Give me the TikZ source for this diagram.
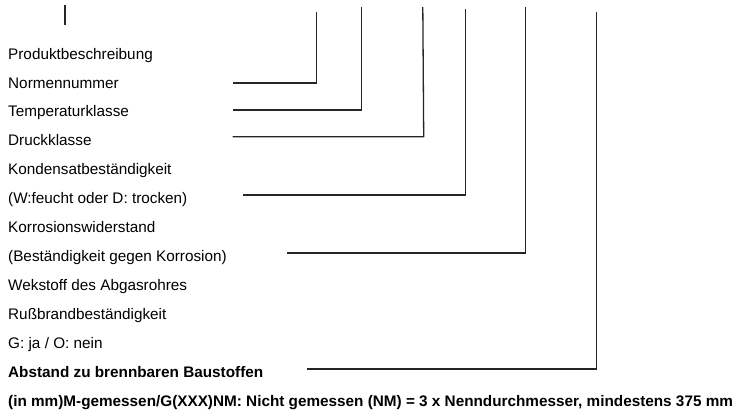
\documentclass[tikz,border=0pt]{standalone}
\usepackage{fontspec}
\setmainfont{Liberation Sans}
\begin{document}
\begin{tikzpicture}[x=1pt,y=-1pt,
  lbl/.style={anchor=base west,inner sep=0pt,font=\fontsize{15.3}{18}\selectfont},
  blbl/.style={lbl,font=\fontsize{15.3}{18}\selectfont\bfseries},
  conn/.style={line width=1.3pt,draw=black!85}]
\useasboundingbox (0,0) rectangle (738,410);
% labels
\node[lbl]  (t0)  at (8,59.0)  {Produktbeschreibung};
\node[lbl]  (t1)  at (8,88.0)  {Normennummer};
\node[lbl]  (t2)  at (8,116.9) {Temperaturklasse};
\node[lbl]  (t3)  at (8,145.9) {Druckklasse};
\node[lbl]  (t4)  at (8,174.8) {Kondensatbeständigkeit};
\node[lbl]  (t5)  at (8,203.8) {(W:feucht oder D: trocken)};
\node[lbl]  (t6)  at (8,232.7) {Korrosionswiderstand};
\node[lbl]  (t7)  at (8,261.7) {(Beständigkeit gegen Korrosion)};
\node[lbl]  (t8)  at (8,290.6) {Wekstoff des Abgasrohres};
\node[lbl]  (t9)  at (8,319.5) {Rußbrandbeständigkeit};
\node[lbl]  (t10) at (8,348.5) {G: ja / O: nein};
\node[blbl] (t11) at (8,377.5) {Abstand zu brennbaren Baustoffen};
\node[blbl] (t12) at (8,406.4) {(in mm)M-gemessen/G(XXX)NM: Nicht gemessen (NM) = 3 x Nenndurchmesser, mindestens 375 mm};
% connector points
\coordinate (p0a) at (65,5);    \coordinate (p0b) at (65,25);
\coordinate (p1a) at (316.7,12); \coordinate (p1b) at (316.7,83);  \coordinate (p1c) at (232.7,83);
\coordinate (p2a) at (361.7,7);  \coordinate (p2b) at (361.7,110); \coordinate (p2c) at (232.7,110);
\coordinate (p3a) at (422.8,7);  \coordinate (p3b) at (423.7,136.7); \coordinate (p3c) at (232.7,136.7);
\coordinate (p4a) at (465.2,9);  \coordinate (p4b) at (465.2,195); \coordinate (p4c) at (243,195);
\coordinate (p5a) at (525.8,7);  \coordinate (p5b) at (525.8,253); \coordinate (p5c) at (287.3,253);
\coordinate (p6a) at (596.2,12); \coordinate (p6b) at (596.2,369); \coordinate (p6c) at (306.7,369);
% connectors
\draw[conn] (p0a) -- (p0b);
\draw[conn] (p1a) -- (p1b) -- (p1c);
\draw[conn] (p2a) -- (p2b) -- (p2c);
\draw[conn] (p3a) -- (p3b) -- (p3c);
\draw[conn] (p4a) -- (p4b) -- (p4c);
\draw[conn] (p5a) -- (p5b) -- (p5c);
\draw[conn] (p6a) -- (p6b) -- (p6c);
\end{tikzpicture}
\end{document}
